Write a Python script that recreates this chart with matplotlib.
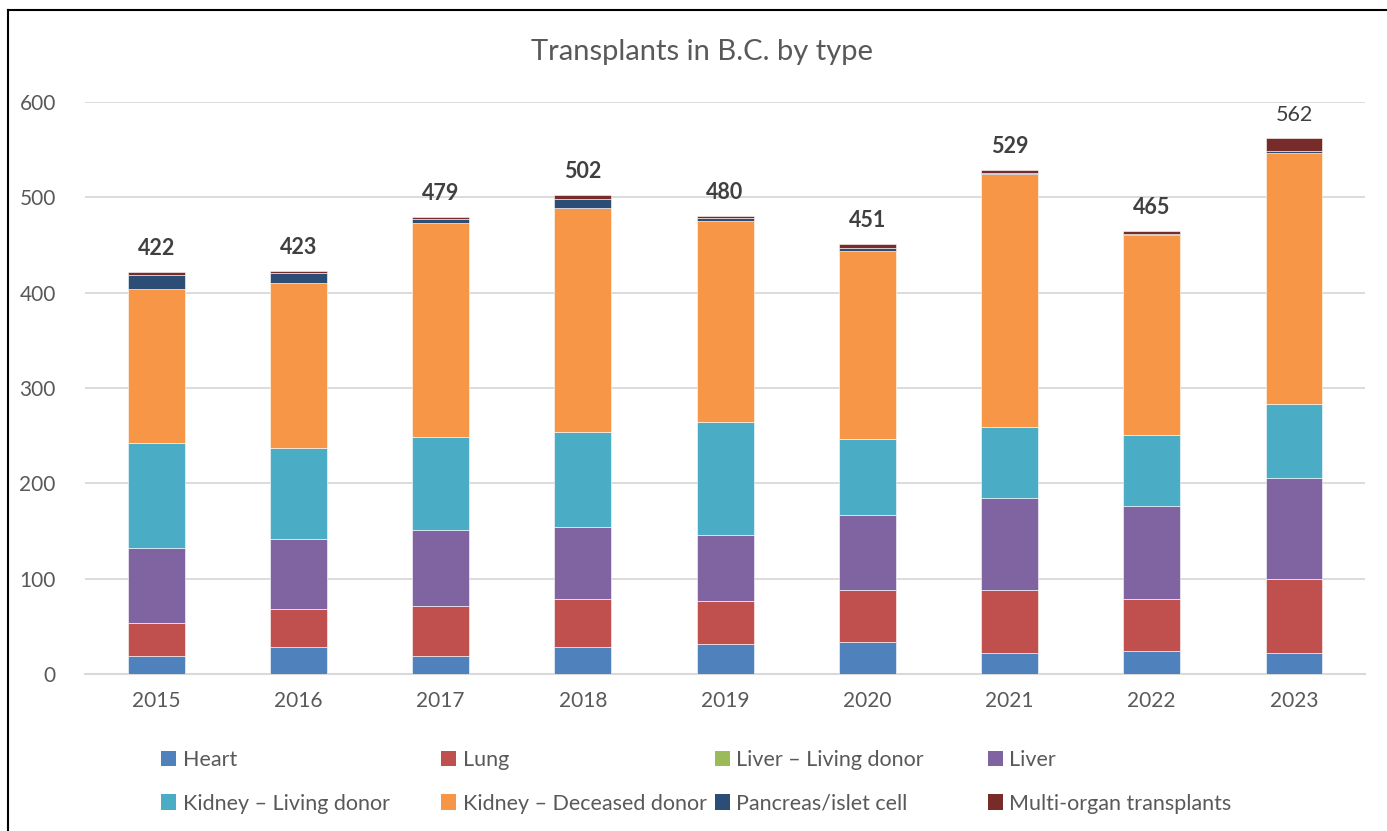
import matplotlib.pyplot as plt
import numpy as np
from matplotlib.lines import Line2D
from matplotlib.patches import Patch

plt.rcParams['font.family'] = ['Lato', 'DejaVu Sans']

years = ['2015', '2016', '2017', '2018', '2019', '2020', '2021', '2022', '2023']

heart = [19, 28, 19, 28, 31, 34, 22, 24, 22]
lung = [35, 40, 52, 51, 46, 54, 66, 55, 78]
liver_living = [0, 0, 0, 0, 0, 0, 0, 0, 0]
liver = [78, 74, 80, 75, 69, 79, 97, 97, 106]
kidney_living = [110, 95, 98, 100, 118, 79, 74, 75, 77]
kidney_deceased = [162, 173, 224, 235, 211, 198, 265, 209, 263]
pancreas = [14, 11, 4, 9, 3, 3, 2, 1, 3]
multi = [4, 2, 2, 4, 2, 4, 3, 4, 13]

series = [heart, lung, liver_living, liver, kidney_living, kidney_deceased, pancreas, multi]
names = ['Heart', 'Lung', 'Liver \u2013 Living donor', 'Liver',
         'Kidney \u2013 Living donor', 'Kidney \u2013 Deceased donor',
         'Pancreas/islet cell', 'Multi-organ transplants']
colors = ['#4F81BD', '#C0504D', '#9BBB59', '#8064A2',
          '#4BACC6', '#F79646', '#2C4D75', '#772C2A']

fig = plt.figure(figsize=(13.87, 8.31), dpi=100)
ax = fig.add_axes([0.0613, 0.1889, 0.9229, 0.6884])

x = np.arange(len(years))
bottom = np.zeros(len(years))
for vals, name, col in zip(series, names, colors):
    ax.bar(x, vals, 0.4, bottom=bottom, color=col, edgecolor='white',
           linewidth=0.4, label=name, zorder=3)
    bottom += np.array(vals)

# totals above bars (last one is not bold in the original)
for i, tot in enumerate(bottom):
    ax.annotate(f'{int(tot)}', (x[i], tot), xytext=(0, 17), textcoords='offset points',
                ha='center', va='center', fontsize=15.5,
                fontweight='normal' if i == len(years) - 1 else 'bold',
                color='#404040')

ax.set_xlim(-0.5, 8.5)
ax.set_ylim(0, 600)
ax.set_yticks(range(0, 601, 100))
ax.set_xticks(x)
ax.set_xticklabels(years)
ax.tick_params(axis='both', length=0, labelsize=15, colors='#595959')
ax.tick_params(axis='y', pad=21)
ax.tick_params(axis='x', pad=12)
ax.yaxis.grid(True, color='#D9D9D9', linewidth=1.3, zorder=0)
for s in ['top', 'right', 'left']:
    ax.spines[s].set_visible(False)
ax.spines['bottom'].set_color('#D9D9D9')
ax.spines['bottom'].set_linewidth(1.5)

fig.text(0.506, 0.938, 'Transplants in B.C. by type', ha='center', va='center',
         fontsize=21, color='#595959')

# legend: 4 columns of 2 rows, placed like the Excel layout
col_x = [0.110, 0.312, 0.509, 0.706]
for j in range(4):
    hs = [Patch(facecolor=colors[j]), Patch(facecolor=colors[j + 4])]
    fig.legend(hs, [names[j], names[j + 4]], loc='upper left',
               bbox_to_anchor=(col_x[j], 0.108), frameon=False,
               fontsize=15.5, labelcolor='#595959', handlelength=0.7,
               handleheight=0.7, handletextpad=0.3, labelspacing=1.1,
               borderaxespad=0)

# outer frame lines (top and left only)
fig.add_artist(Line2D([8 / 1387, 1], [1 - 10 / 831, 1 - 10 / 831],
                      color='black', linewidth=1.5, transform=fig.transFigure))
fig.add_artist(Line2D([8 / 1387, 8 / 1387], [0, 1 - 10 / 831],
                      color='black', linewidth=1.5, transform=fig.transFigure))

fig.savefig('out.png', dpi=100)
